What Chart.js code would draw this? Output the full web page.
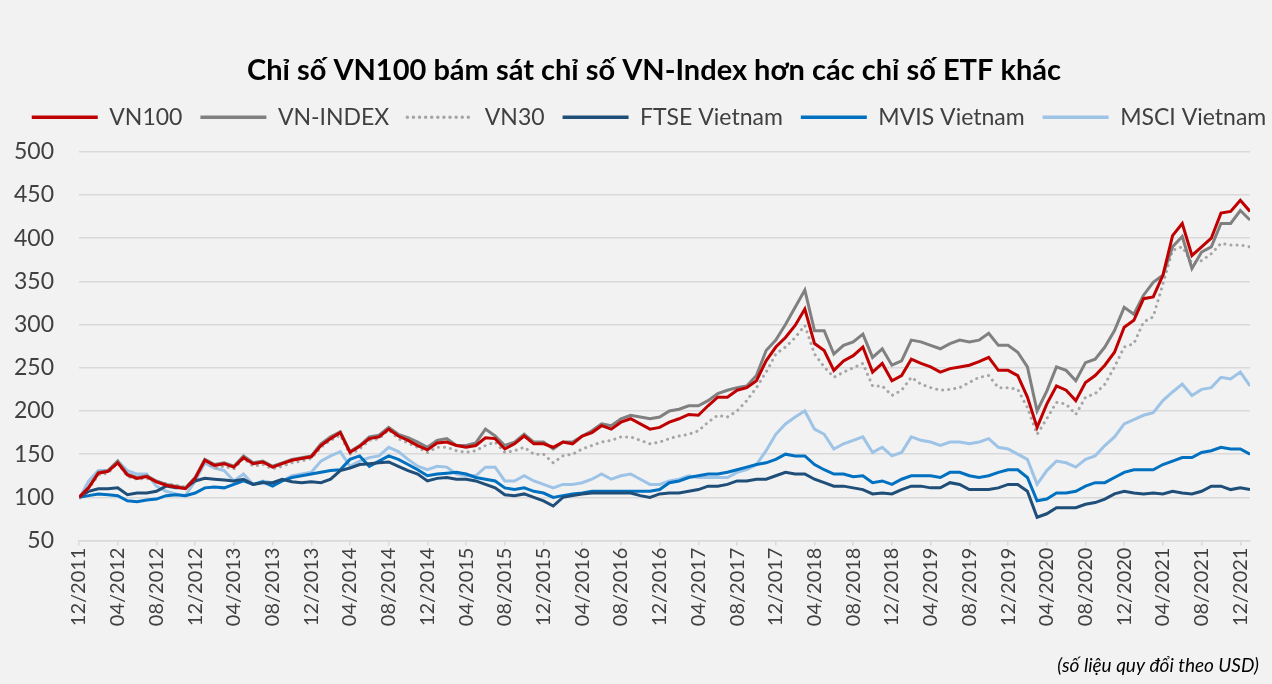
<!DOCTYPE html>
<html>
<head>
<meta charset="utf-8">
<script src="https://cdn.jsdelivr.net/npm/chart.js@4.4.1/dist/chart.umd.min.js"></script>
<style>
  html, body { margin: 0; padding: 0; background: #f2f2f2; }
  #wrap { width: 1272px; height: 684px; }
</style>
</head>
<body>
<div id="wrap"><canvas id="chart" width="1272" height="684"></canvas></div>
<script>
// tick labels every 4 months, month index 0 = 12/2011
const tickLabels = ['12/2011','04/2012','08/2012','12/2012','04/2013','08/2013','12/2013','04/2014','08/2014','12/2014',
  '04/2015','08/2015','12/2015','04/2016','08/2016','12/2016','04/2017','08/2017','12/2017','04/2018','08/2018',
  '12/2018','04/2019','08/2019','12/2019','04/2020','08/2020','12/2020','04/2021','08/2021','12/2021'];

// monthly values, 12/2011 -> 01/2022
const vn100 = [100,111,128,130,140,126,122,124,118,114,112,110,122,143,137,139,135,146,139,141,
  135,139,143,145,147,160,168,175,152,159,168,170,179,171,166,160,155,163,164,160,158,160,
  169,168,156,162,171,162,162,158,164,162,171,175,183,179,187,191,185,179,181,187,
  191,196,195,206,216,216,224,227,235,258,274,285,299,318,278,270,247,258,
  264,274,245,255,235,241,260,255,251,245,249,251,253,257,262,247,247,241,216,181,
  208,229,224,212,233,241,253,268,297,305,330,332,357,403,417,380,390,400,429,431,444,431];

const vnIndex = [100,112,129,131,142,127,123,125,119,115,113,111,123,144,138,140,136,148,140,142,
  136,140,144,146,148,162,170,176,153,160,170,172,181,173,169,164,158,166,168,160,160,163,
  179,171,160,164,173,164,164,156,164,164,171,177,185,183,191,195,193,191,193,200,
  202,206,206,212,220,224,227,229,241,270,282,300,320,340,293,293,266,276,
  280,289,262,272,253,258,282,280,276,272,278,282,280,282,290,276,276,268,251,200,
  223,251,247,235,256,260,274,293,320,312,334,349,357,390,402,365,384,390,417,417,432,421];

const vn30 = [100,110,126,128,140,124,121,122,118,116,114,112,121,142,134,136,133,145,136,138,
  133,136,140,142,145,158,166,172,150,156,166,168,178,168,163,158,152,158,158,154,152,154,
  160,164,152,154,158,150,150,140,148,150,156,160,164,166,170,170,166,162,164,168,
  171,173,177,187,195,193,200,212,227,245,266,274,285,299,266,251,239,245,
  250,255,229,229,218,224,239,231,227,224,225,227,233,239,241,227,227,225,204,173,
  191,210,208,196,216,220,231,251,274,278,303,309,347,386,390,371,374,382,394,392,392,390];

const ftse = [100,107,110,110,111,103,105,105,107,113,111,111,119,122,121,120,119,121,115,117,
  117,121,118,117,118,117,121,131,134,138,139,140,141,136,131,127,119,122,123,121,121,119,
  115,111,103,102,104,100,96,90,100,102,104,105,105,105,105,105,102,100,104,105,
  105,107,109,113,113,115,119,119,121,121,125,129,127,127,121,117,113,113,
  111,109,104,105,104,109,113,113,111,111,117,115,109,109,109,111,115,115,107,77,
  81,88,88,88,92,94,98,104,107,105,104,105,104,107,105,104,107,113,113,109,111,109];

const mvis = [100,102,104,103,102,96,95,97,98,102,103,102,105,111,112,111,115,119,115,118,
  113,119,123,125,127,129,131,132,144,148,136,142,148,144,138,132,125,127,128,129,127,123,
  121,119,111,109,111,107,105,100,102,104,105,107,107,107,107,107,107,107,109,117,
  119,123,125,127,127,129,132,135,138,140,144,150,148,148,138,132,127,127,
  124,125,117,119,115,121,125,125,125,123,129,129,125,123,125,129,132,132,123,96,
  98,105,105,107,113,117,117,123,129,132,132,132,138,142,146,146,152,154,158,156,156,150];

const msci = [98,119,131,131,142,131,127,127,113,107,104,102,119,140,134,131,119,127,115,119,
  117,119,125,127,129,142,148,153,136,142,146,148,158,153,144,136,132,136,135,127,125,125,
  135,135,119,119,125,119,115,111,115,115,117,121,127,121,125,127,121,115,115,119,
  121,125,123,123,123,123,129,132,138,154,173,185,193,200,179,173,156,162,
  166,170,152,158,148,152,170,166,164,160,164,164,162,164,168,158,156,150,144,115,
  131,142,140,135,144,148,160,170,185,190,195,198,212,222,231,218,225,227,239,237,245,229];

const toPoints = arr => arr.map((v, i) => ({ x: i, y: v }));

function series(label, values, color, dash) {
  return {
    label: label,
    data: toPoints(values),
    borderColor: color,
    backgroundColor: color,
    borderWidth: 3,
    borderDash: dash || [],
    borderCapStyle: dash ? 'round' : 'butt',
    pointRadius: 0,
    pointStyle: 'line',
    tension: 0,
    fill: false,
  };
}

const fontFamily = 'Lato, "Noto Sans", sans-serif';
const textColor = '#404040';

// legend: one row, fixed height down to the plot
const legendSpacing = {
  id: 'legendSpacing',
  beforeInit(chart) {
    const legend = chart.legend;
    if (!legend) return;
    const origFit = legend.fit;
    legend.fit = function () {
      this.maxWidth = 1400;
      origFit.call(this);
      this.height = 64;
    };
  },
  // title and legend are centred a bit right of the canvas centre
  afterLayout(chart) {
    if (chart.legend) {
      chart.legend.left = 0;
      chart.legend.right = 1298;
    }
    if (chart.titleBlock) {
      chart.titleBlock.left = 36;
      chart.titleBlock.right = 1272;
    }
  },
};

new Chart(document.getElementById('chart').getContext('2d'), {
  type: 'line',
  data: {
    datasets: [
      series('VN100', vn100, '#C00000'),
      series('VN-INDEX', vnIndex, '#808080'),
      series('VN30', vn30, '#A6A6A6', [0.1, 6]),
      series('FTSE Vietnam', ftse, '#1F4E79'),
      series('MVIS Vietnam', mvis, '#0070C0'),
      series('MSCI Vietnam', msci, '#9DC3E6'),
    ],
  },
  plugins: [legendSpacing],
  options: {
    responsive: false,
    animation: false,
    layout: { padding: { left: 14, right: 13, top: 0, bottom: 7 } },
    plugins: {
      title: {
        display: true,
        text: 'Chỉ số VN100 bám sát chỉ số VN-Index hơn các chỉ số ETF khác',
        color: '#000000',
        font: { family: fontFamily, size: 29, weight: 'bold' },
        padding: { top: 53, bottom: 0 },
      },
      legend: {
        position: 'top',
        labels: {
          usePointStyle: true,
          pointStyleWidth: 66,
          color: textColor,
          font: { family: fontFamily, size: 23 },
          padding: 18,
          generateLabels: chart =>
            Chart.defaults.plugins.legend.labels.generateLabels(chart).map(item => {
              const ds = chart.data.datasets[item.datasetIndex];
              item.lineDash = ds.borderDash;
              item.lineCap = ds.borderCapStyle;
              item.lineWidth = 3.5;
              return item;
            }),
        },
      },
      subtitle: {
        display: true,
        position: 'bottom',
        align: 'end',
        text: '(số liệu quy đổi theo USD)',
        color: '#000000',
        font: { family: fontFamily, size: 19, style: 'italic' },
        padding: { top: 26, bottom: 0 },
      },
      tooltip: { enabled: false },
    },
    scales: {
      x: {
        type: 'linear',
        min: 0,
        max: vn100.length - 1,
        grid: { drawOnChartArea: false, drawTicks: true, tickLength: 5, color: '#D9D9D9', lineWidth: 1.5 },
        border: { display: true, color: '#D9D9D9', width: 1.5 },
        ticks: {
          stepSize: 4,
          includeBounds: false,
          autoSkip: false,
          maxRotation: 90,
          minRotation: 90,
          color: textColor,
          font: { family: fontFamily, size: 20 },
          padding: 2,
          callback: value => tickLabels[value / 4],
        },
        // rotated labels would otherwise ask for a wide left margin
        afterFit: scale => { scale.paddingLeft = 10; scale.paddingRight = 0; },
      },
      y: {
        min: 50,
        max: 500,
        grid: { color: '#D9D9D9', lineWidth: 1.5, drawTicks: false },
        border: { display: false },
        ticks: {
          stepSize: 50,
          color: textColor,
          font: { family: fontFamily, size: 23 },
          padding: 25,
        },
        afterFit: scale => { scale.width = 65; },
      },
      // empty right axis, only to keep the plot clear of the right edge
      yRight: {
        type: 'linear',
        position: 'right',
        grid: { display: false },
        border: { display: false },
        ticks: { display: false },
        afterFit: scale => { scale.width = 9; },
      },
    },
  },
});
</script>
</body>
</html>
